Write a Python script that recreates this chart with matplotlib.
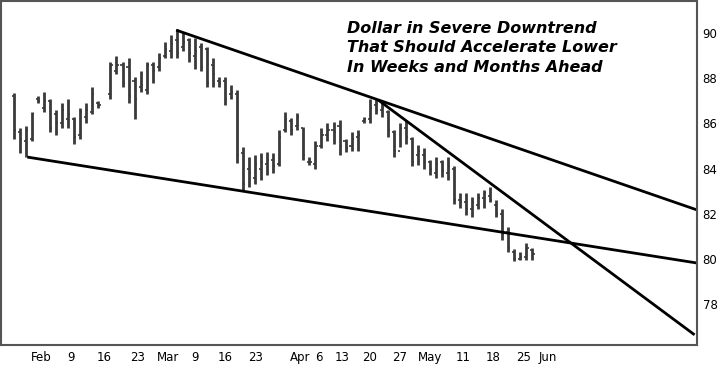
import matplotlib
matplotlib.use('Agg')
import matplotlib.pyplot as plt

# trading-day slot (slot 15 is an empty holiday slot)
day = [0, 1, 2, 3, 4, 5, 6, 7, 8, 9, 10, 11, 12, 13, 14,
       16, 17, 18, 19, 20, 21, 22, 23, 24, 25, 26, 27, 28, 29, 30,
       31, 32, 33, 34, 35, 36, 37, 38, 39, 40, 41, 42, 43, 44, 45,
       46, 47, 48, 49, 50, 51, 52, 53, 54, 55, 56, 57, 58, 59, 60,
       61, 62, 63, 64, 65, 66, 67, 68, 69, 70, 71, 72, 73, 74, 75,
       76, 77, 78, 79, 80, 81, 82, 83, 84, 85, 86]
high = [87.35, 85.8, 85.9, 86.5, 87.2, 87.4, 87.1, 86.6, 86.9, 87.1, 86.3, 86.7, 86.9, 87.6, 87.0,
        88.7, 89.0, 88.7, 88.9, 88.05, 88.3, 88.7, 88.7, 89.1, 89.6, 89.9, 90.2, 90.05, 89.8, 89.8,
        89.55, 89.4, 88.9, 88.05, 88.05, 87.7, 87.5, 84.95, 84.5, 84.6, 84.7, 84.75, 84.7, 85.7, 86.5,
        86.25, 86.45, 85.85, 84.5, 85.2, 85.8, 86.0, 86.05, 86.15, 85.3, 85.6, 85.7, 86.3, 87.1, 87.1,
        86.9, 86.6, 85.7, 86.0, 86.15, 85.4, 85.05, 84.9, 84.4, 84.5, 84.4, 84.5, 84.1, 82.9, 82.9,
        82.75, 82.9, 83.05, 83.2, 82.6, 82.2, 81.4, 80.45, 80.3, 80.7, 80.5]
low = [85.31, 84.7, 84.5, 85.2, 86.9, 86.5, 85.6, 85.5, 85.8, 85.8, 85.1, 85.3, 86.0, 86.4, 86.7,
       87.1, 88.2, 87.6, 86.9, 86.2, 87.4, 87.3, 87.8, 88.3, 88.9, 88.9, 88.9, 89.2, 88.7, 88.4,
       88.3, 87.6, 87.6, 87.6, 86.8, 87.1, 84.25, 83.05, 83.2, 83.3, 83.5, 83.7, 83.8, 84.1, 85.6,
       85.5, 85.7, 84.4, 84.15, 84.0, 84.9, 85.2, 85.1, 84.6, 84.75, 84.8, 84.8, 86.0, 86.0, 86.4,
       86.3, 85.4, 84.5, 84.95, 85.1, 84.1, 84.15, 84.0, 83.7, 83.6, 83.65, 83.5, 82.45, 82.25, 81.95,
       81.85, 82.2, 82.25, 82.5, 81.85, 80.85, 80.3, 79.9, 79.95, 79.95, 79.95]
open_ = [87.2, 85.6, 85.2, 85.3, 87.1, 86.7, 87.0, 86.4, 86.0, 86.2, 86.2, 85.5, 86.3, 86.5, 86.9,
         87.3, 88.3, 88.6, 88.5, 87.9, 87.6, 87.5, 88.6, 88.5, 89.0, 89.2, 89.7, 89.4, 89.7, 89.0,
         89.4, 89.3, 88.6, 87.9, 87.9, 87.3, 87.3, 84.7, 84.0, 83.6, 84.0, 84.2, 84.4, 84.2, 85.7,
         86.1, 85.9, 85.8, 84.3, 84.2, 85.0, 85.5, 85.7, 85.9, 85.2, 85.0, 85.4, 86.1, 86.2, 86.8,
         86.6, 86.5, 85.6, 84.8, 85.8, 85.3, 84.6, 84.6, 84.3, 83.8, 84.3, 83.8, 84.0, 82.6, 82.5,
         82.2, 82.4, 82.7, 82.8, 82.4, 82.0, 81.2, 80.3, 80.0, 80.1, 80.4]
close = [85.7, 85.3, 85.7, 86.4, 87.0, 87.0, 85.8, 86.0, 86.6, 86.4, 85.4, 86.5, 86.6, 87.3, 86.8,
         88.6, 88.6, 87.8, 87.2, 87.1, 87.7, 88.6, 88.3, 88.9, 89.3, 89.5, 89.1, 89.6, 89.1, 89.2,
         88.5, 87.8, 88.2, 87.8, 87.1, 87.4, 84.6, 83.3, 83.8, 84.2, 84.3, 84.4, 84.1, 85.4, 86.2,
         85.7, 86.3, 84.6, 84.3, 85.0, 85.5, 85.7, 85.6, 85.0, 84.9, 85.3, 85.5, 86.2, 86.7, 86.6,
         86.7, 85.7, 84.8, 85.8, 85.4, 84.3, 84.8, 84.3, 84.0, 84.2, 83.9, 84.1, 82.6, 82.5, 82.2,
         82.5, 82.7, 82.9, 82.6, 82.0, 81.1, 80.5, 80.0, 80.1, 80.5, 80.2]

tick_pos = [4.5, 9.5, 15, 20.5, 25.5, 30, 35, 40, 47.5, 50.5, 54.5, 59, 64, 69, 74.5, 79.5, 84.5, 88.5]
tick_lab = ['Feb', '9', '16', '23', 'Mar', '9', '16', '23', 'Apr', '6', '13', '20', '27',
            'May', '11', '18', '25', 'Jun']
y_ticks = [78, 80, 82, 84, 86, 88, 90]

# trendlines: (start day, start value, end day, end value)
upper_line = (26.9, 90.13, 113.3, 82.17)
lower_line = (2.2, 84.51, 113.3, 79.82)
steep_line = (60.4, 87.04, 112.9, 76.64)

fig = plt.figure(figsize=(7.2, 3.68), dpi=100)
ax = fig.add_axes([1 / 720, 23 / 368, 696 / 720, 344 / 368])

bar_c = '#3a3a3a'
ax.vlines(day, low, high, color=bar_c, lw=2.0)
ax.hlines(open_, [d - 0.35 for d in day], day, color=bar_c, lw=1.2)
ax.hlines(close, day, [d + 0.35 for d in day], color=bar_c, lw=1.2)

for x0, y0, x1, y1 in (upper_line, lower_line, steep_line):
    ax.plot([x0, x1], [y0, y1], color='black', lw=2.0, solid_capstyle='butt')

ax.set_xlim(-2.16, 113.3)
ax.set_ylim(76.19, 91.42)

ax.yaxis.tick_right()
ax.set_yticks(y_ticks)
ax.set_yticklabels([str(v) for v in y_ticks])
ax.set_xticks(tick_pos)
ax.set_xticklabels(tick_lab)
ax.tick_params(axis='both', length=0, labelsize=8.5, colors='black')
ax.tick_params(axis='y', pad=4)
ax.tick_params(axis='x', pad=4)
for s in ax.spines.values():
    s.set_color('#555555')
    s.set_linewidth(1.5)

ax.text(0.497, 0.943, 'Dollar in Severe Downtrend\nThat Should Accelerate Lower\nIn Weeks and Months Ahead',
        transform=ax.transAxes, ha='left', va='top', fontsize=11.5, fontweight='bold',
        fontstyle='italic', linespacing=1.38, color='black')

fig.savefig('out.png', dpi=100)
